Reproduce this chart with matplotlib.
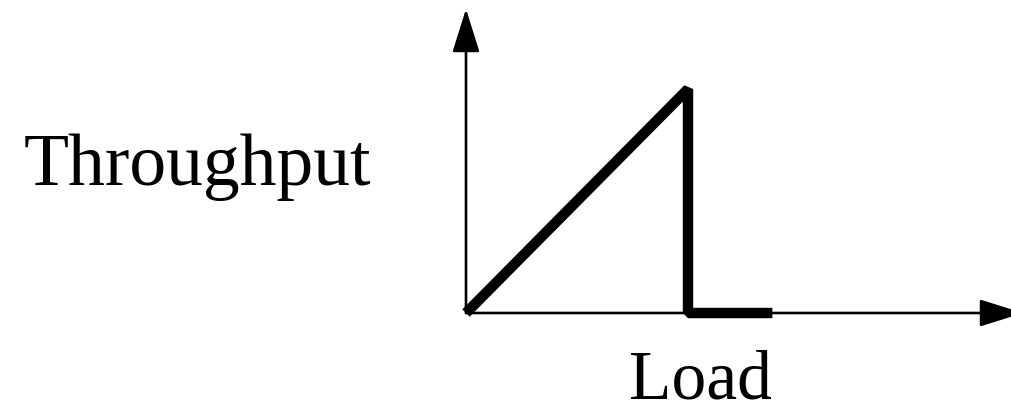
import matplotlib.pyplot as plt

# Données : débit en fonction de la charge (effondrement après le pic)
load = [0.0, 1.0, 1.0, 1.38]
throughput = [0.0, 1.0, 0.0, 0.0]

plt.rcParams['font.family'] = ['Liberation Serif', 'DejaVu Serif']

fig = plt.figure(figsize=(10.11, 4.13), dpi=100)
ax = fig.add_axes([0, 0, 1, 1])

# Échelle : origine à (466, 313) px, ~222 px par unité
ax.set_xlim(-466 / 222, (1011 - 466) / 222)
ax.set_ylim(-(413 - 313) / 224, 313 / 224)
ax.axis('off')

# Axes avec flèches
arrow = dict(arrowstyle='-|>,head_length=27,head_width=8.5', mutation_scale=1,
             color='black', lw=1.9, shrinkA=0, shrinkB=0)
ax.annotate('', xy=(0, 304 / 224), xytext=(0, 0), arrowprops=arrow,
            annotation_clip=False)
ax.annotate('', xy=(557 / 222, 0), xytext=(0, 0), arrowprops=arrow,
            annotation_clip=False)

# Courbe épaisse
ax.plot(load, throughput, color='black', lw=7.5, solid_joinstyle='bevel',
        solid_capstyle='butt')

fig.text(0.1954, 0.552, 'Throughput', fontsize=53, ha='center', va='baseline')
fig.text(0.6924, 0.0339, 'Load', fontsize=50, ha='center', va='baseline')

plt.savefig('out.png', dpi=100)
